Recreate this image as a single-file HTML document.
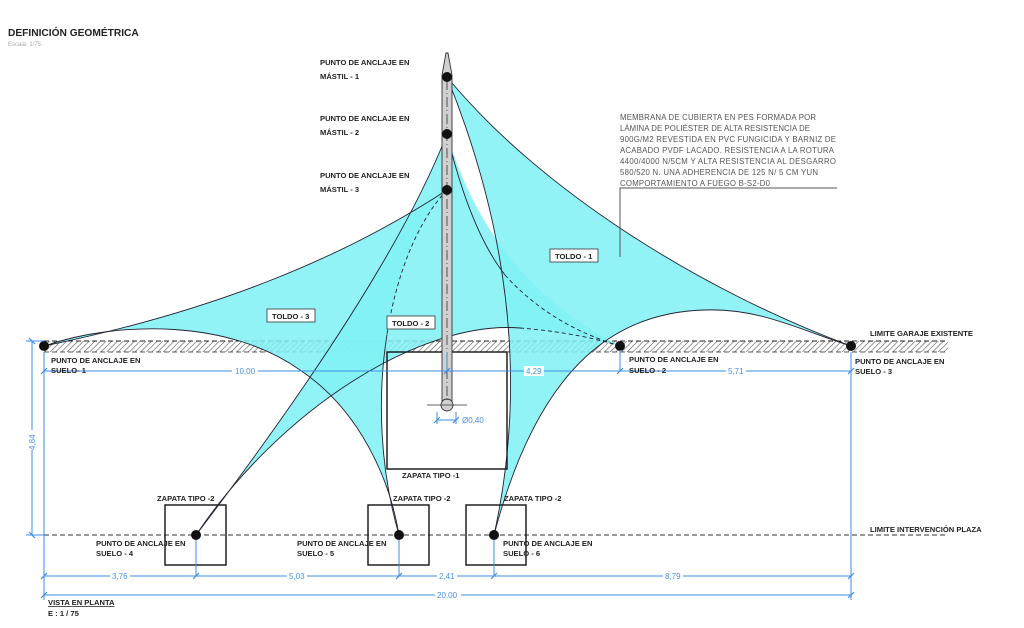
<!DOCTYPE html>
<html><head><meta charset="utf-8"><style>
html,body{margin:0;padding:0;background:#fff;}
svg{display:block;font-family:"Liberation Sans",sans-serif;}
.lb{font-size:7.6px;font-weight:bold;fill:#222;}
.dim{font-size:8px;fill:#4a90e2;}
.desc{font-size:7.8px;fill:#555;}
</style></head><body>
<svg width="1024" height="628" viewBox="0 0 1024 628" xmlns="http://www.w3.org/2000/svg">
<defs>
<pattern id="h" width="4" height="4" patternUnits="userSpaceOnUse" patternTransform="rotate(45)">
<rect width="4" height="4" fill="#fff"/><line x1="0" y1="0" x2="0" y2="4" stroke="#555" stroke-width="1.2"/>
</pattern>
</defs>
<text x="8" y="36" style="font-size:10.2px;font-weight:bold;fill:#222">DEFINICIÓN GEOMÉTRICA</text>
<text x="8" y="46" style="font-size:6px;fill:#aaa">Escala: 1/75</text>

<rect x="44" y="341" width="904" height="11" fill="url(#h)"/>
<line x1="44" y1="341" x2="948" y2="341" stroke="#222" stroke-width="1" stroke-dasharray="5,3"/>
<line x1="44" y1="352" x2="948" y2="352" stroke="#222" stroke-width="0.8" stroke-dasharray="5,3"/>
<line x1="28" y1="535" x2="948" y2="535" stroke="#333" stroke-width="1" stroke-dasharray="5,3"/>

<g fill="#7ff1f4" fill-opacity="0.85" stroke="none">
<path d="M447,77 C540,190 700,290 851,346 C800,330 760,308 705,310 C620,312 540,360 494,535 Q543,314 447,77Z"/>
<path d="M447,134 Q490,280 620,346 C600,340 570,332 520,328 C420,320 280,410 196,535 Q390,280 447,134Z"/>
<path d="M447,190 C340,260 210,312 44,346 C120,320 230,320 300,370 C360,410 390,480 399,535 C360,400 390,250 447,190Z"/>
</g>

<g fill="none" stroke="#111" stroke-width="1.4">
<rect x="387" y="352" width="120" height="117"/>
<rect x="165" y="505" width="61" height="60"/>
<rect x="368" y="505" width="61" height="60"/>
<rect x="466" y="505" width="60" height="60"/>
</g>

<g fill="none" stroke="#223" stroke-width="0.9">
<path d="M447,77 C540,190 700,290 851,346"/>
<path d="M851,346 C800,330 760,308 705,310 C620,312 540,360 494,535"/>
<path d="M494,535 Q543,314 447,77"/>
<path d="M447,134 Q470,230 505,275"/>
<path d="M505,275 Q550,325 620,346" stroke-dasharray="4,3"/>
<path d="M196,535 C280,410 420,320 520,328"/>
<path d="M520,328 C570,332 600,340 620,346" stroke-dasharray="4,3"/>
<path d="M196,535 Q390,280 447,134"/>
<path d="M447,190 C340,260 210,312 44,346"/>
<path d="M44,346 C120,320 230,320 300,370 C360,410 390,480 399,535"/>
<path d="M447,190 C418.5,220 396.75,272.5 387,334.4" stroke-dasharray="4,3"/>
<path d="M387,334.4 C377.25,396.25 379.5,467.5 399,535"/>
</g>

<path d="M442,405 L442,75 L446,53 L448,53 L452,75 L452,405Z" fill="#d0d0d0" stroke="#333" stroke-width="0.9"/>
<circle cx="447" cy="405" r="6" fill="#d0d0d0" stroke="#333" stroke-width="0.9"/>
<line x1="447" y1="80" x2="447" y2="400" stroke="#333" stroke-width="0.8" stroke-dasharray="10,3,1,3"/>
<line x1="427" y1="405" x2="467" y2="405" stroke="#333" stroke-width="0.8"/>

<g fill="#111">
<circle cx="447" cy="77" r="5"/><circle cx="447" cy="134" r="5"/><circle cx="447" cy="190" r="5"/>
<circle cx="44" cy="346" r="5"/><circle cx="620" cy="346" r="5"/><circle cx="851" cy="346" r="5"/>
<circle cx="196" cy="535" r="5"/><circle cx="399" cy="535" r="5"/><circle cx="494" cy="535" r="5"/>
</g>

<g stroke="#3d8de6" stroke-width="1" fill="none">
<line x1="44" y1="371" x2="851" y2="371"/>
<line x1="32" y1="341" x2="32" y2="535"/>
<line x1="26" y1="341" x2="44" y2="341"/>
<line x1="26" y1="535" x2="44" y2="535"/>
<line x1="44" y1="352" x2="44" y2="600"/>
<line x1="851" y1="352" x2="851" y2="600"/>
<line x1="620" y1="350" x2="620" y2="371"/>
<line x1="447" y1="352" x2="447" y2="371"/>
<line x1="44" y1="576" x2="851" y2="576"/>
<line x1="44" y1="595" x2="851" y2="595"/>
<line x1="196" y1="540" x2="196" y2="576"/>
<line x1="399" y1="540" x2="399" y2="576"/>
<line x1="494" y1="540" x2="494" y2="576"/>
<line x1="437" y1="412" x2="437" y2="424"/><line x1="456" y1="412" x2="456" y2="424"/>
<line x1="437" y1="420" x2="456" y2="420"/>
<g stroke-width="1.2">
<path d="M41,374 l6,-6 M444,374 l6,-6 M617,374 l6,-6 M848,374 l6,-6"/>
<path d="M29,338 l6,6 M29,532 l6,6"/>
<path d="M41,579 l6,-6 M193,579 l6,-6 M396,579 l6,-6 M491,579 l6,-6 M848,579 l6,-6"/>
<path d="M41,598 l6,-6 M848,598 l6,-6"/>
<path d="M434,423 l6,-6 M453,423 l6,-6"/>
</g>
</g>
<g class="dim">
<rect x="232" y="366" width="26" height="10" fill="#fff"/><text x="235" y="374">10,00</text>
<rect x="524" y="366" width="20" height="10" fill="#fff"/><text x="526" y="374">4,29</text>
<rect x="726" y="366" width="20" height="10" fill="#fff"/><text x="728" y="374">5,71</text>
<rect x="110" y="571" width="20" height="10" fill="#fff"/><text x="112" y="579">3,76</text>
<rect x="287" y="571" width="20" height="10" fill="#fff"/><text x="289" y="579">5,03</text>
<rect x="437" y="571" width="20" height="10" fill="#fff"/><text x="439" y="579">2,41</text>
<rect x="663" y="571" width="20" height="10" fill="#fff"/><text x="665" y="579">8,79</text>
<rect x="435" y="590" width="26" height="10" fill="#fff"/><text x="437" y="598">20,00</text>
<text x="462" y="423">Ø0,40</text>
<rect x="27" y="430" width="10" height="20" fill="#fff"/>
<text x="0" y="0" transform="translate(35,450) rotate(-90)">4,84</text>
</g>

<g class="lb">
<text x="320" y="65">PUNTO DE ANCLAJE EN</text><text x="320" y="79">MÁSTIL - 1</text>
<text x="320" y="121">PUNTO DE ANCLAJE EN</text><text x="320" y="135">MÁSTIL - 2</text>
<text x="320" y="178">PUNTO DE ANCLAJE EN</text><text x="320" y="192">MÁSTIL - 3</text>
<text x="51" y="363">PUNTO DE ANCLAJE EN</text><text x="51" y="373">SUELO- 1</text>
<text x="629" y="362">PUNTO DE ANCLAJE EN</text><text x="629" y="373">SUELO - 2</text>
<text x="855" y="364">PUNTO DE ANCLAJE EN</text><text x="855" y="374">SUELO - 3</text>
<text x="96" y="546">PUNTO DE ANCLAJE EN</text><text x="96" y="556">SUELO - 4</text>
<text x="297" y="546">PUNTO DE ANCLAJE EN</text><text x="297" y="556">SUELO - 5</text>
<text x="503" y="546">PUNTO DE ANCLAJE EN</text><text x="503" y="556">SUELO - 6</text>
<text x="402" y="478">ZAPATA TIPO -1</text>
<text x="157" y="501">ZAPATA TIPO -2</text>
<text x="393" y="501">ZAPATA TIPO -2</text>
<text x="504" y="501">ZAPATA TIPO -2</text>
<text x="870" y="336">LIMITE GARAJE EXISTENTE</text>
<text x="870" y="532">LIMITE INTERVENCIÓN PLAZA</text>
<text x="48" y="605" text-decoration="underline">VISTA EN PLANTA</text>
<text x="48" y="616">E : 1 / 75</text>
</g>
<g>
<rect x="267" y="309" width="48" height="13" fill="#fff" stroke="#333" stroke-width="0.8"/>
<text x="272" y="319" class="lb">TOLDO - 3</text>
<rect x="387" y="316" width="48" height="13" fill="#fff" stroke="#333" stroke-width="0.8"/>
<text x="392" y="326" class="lb">TOLDO - 2</text>
<rect x="550" y="249" width="48" height="13" fill="#fff" stroke="#333" stroke-width="0.8"/>
<text x="555" y="259" class="lb">TOLDO - 1</text>
</g>

<g class="desc">
<text x="620" y="120" textLength="196">MEMBRANA DE CUBIERTA EN PES FORMADA POR</text>
<text x="620" y="131" textLength="190">LÁMINA DE POLIÉSTER DE ALTA RESISTENCIA DE</text>
<text x="620" y="142" textLength="216">900G/M2 REVESTIDA EN PVC FUNGICIDA Y BARNIZ DE</text>
<text x="620" y="153" textLength="214">ACABADO PVDF LACADO. RESISTENCIA A LA ROTURA</text>
<text x="620" y="164" textLength="216">4400/4000 N/5CM Y ALTA RESISTENCIA AL DESGARRO</text>
<text x="620" y="175" textLength="198">580/520 N. UNA ADHERENCIA DE 125 N/ 5 CM YUN</text>
<text x="620" y="186" textLength="150">COMPORTAMIENTO A FUEGO B-S2-D0</text>
</g>
<path d="M837,188 L620,188 L620,257" fill="none" stroke="#555" stroke-width="1"/>
</svg>
</body></html>
